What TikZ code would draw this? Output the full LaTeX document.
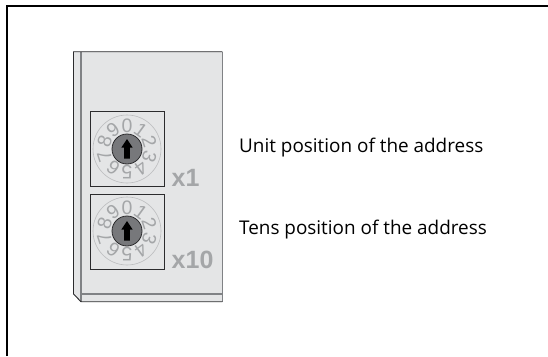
\documentclass[tikz,border=0pt]{standalone}
\usepackage{fontspec}
\setmainfont{Open Sans}
\newfontfamily\markfont{Liberation Sans}
\definecolor{panelfill}{HTML}{E4E5E6}
\definecolor{digitgray}{HTML}{A4A6A8}
\definecolor{edgegray}{HTML}{808285}
\definecolor{knobgray}{HTML}{77787B}
\definecolor{dark}{HTML}{2B2B2D}
\tikzset{
  frameline/.style={line width=2pt,black},
  panelline/.style={line width=0.9pt,dark},
  greyline/.style={line width=1.4pt,edgegray},
  dialbox/.style={draw=dark,line width=0.9pt,fill=panelfill},
  ring/.style={draw=digitgray!75,line width=0.6pt,fill=panelfill},
  knob/.style={draw=dark,line width=0.8pt,fill=knobgray},
  digit/.style={text=digitgray,font=\markfont\fontsize{19.5}{19.5}\selectfont,inner sep=0pt},
  caption/.style={anchor=base west,inner sep=0pt,text=black,font=\fontsize{18.9}{22}\selectfont},
  boxmark/.style={anchor=base west,inner sep=0pt,text=digitgray,font=\markfont\bfseries\fontsize{25}{25}\selectfont},
}
\newcommand{\rotarydial}[3]{%
  \begin{scope}[shift={(#2,#3)}]
    \path[ring] (0,0) circle (34);
    \foreach \d [count=\i from 0] in {0,...,9}{
      \pgfmathsetmacro{\ang}{36*\i-90}
      \pgfmathsetmacro{\rot}{-36*\i}
      \node[digit,rotate=\rot] (#1d\d) at (\ang:23.5) {\d};
    }
    \path[knob] (0,0) circle (15);
    \fill[black] (0,-10) -- (5.6,-1.5) -- (2.9,-1.5) -- (2.9,9.5) -- (-2.9,9.5) -- (-2.9,-1.5) -- (-5.6,-1.5) -- cycle;
  \end{scope}}
\begin{document}
\begin{tikzpicture}[x=1pt,y=-1pt]
\useasboundingbox (0,0) rectangle (548,356);
\fill[white] (0,0) rectangle (548,356);
% page frame
\draw[frameline] (7,356) -- (7,6) -- (548,6);
% device panel
\fill[panelfill] (73.5,51.7) -- (222.3,51.7) -- (222.3,301.7) -- (81,301.7) -- (73.5,294) -- cycle;
\draw[greyline] (81,51.7) -- (81,301.7);
\draw[greyline] (81,294) -- (222.3,294);
\draw[greyline] (222.3,51.7) -- (222.3,301.7);
\draw[panelline] (222.3,51.7) -- (73.5,51.7) -- (73.5,294) -- (81,301.7) -- (222.3,301.7);
% dials
\node[dialbox,minimum width=74.3pt,minimum height=75pt,inner sep=0pt] (boxa) at (127.15,149.2) {};
\node[dialbox,minimum width=74.3pt,minimum height=75pt,inner sep=0pt] (boxb) at (127.15,231.5) {};
\rotarydial{a}{127}{149}
\rotarydial{b}{127}{231}
\node[boxmark] (xone) at (171.5,186.7) {x1};
\node[boxmark] (xten) at (171.5,268.3) {x10};
\node[caption] (unit) at (239,152.7) {Unit position of the address};
\node[caption] (tens) at (239,234.3) {Tens position of the address};
\end{tikzpicture}
\end{document}
